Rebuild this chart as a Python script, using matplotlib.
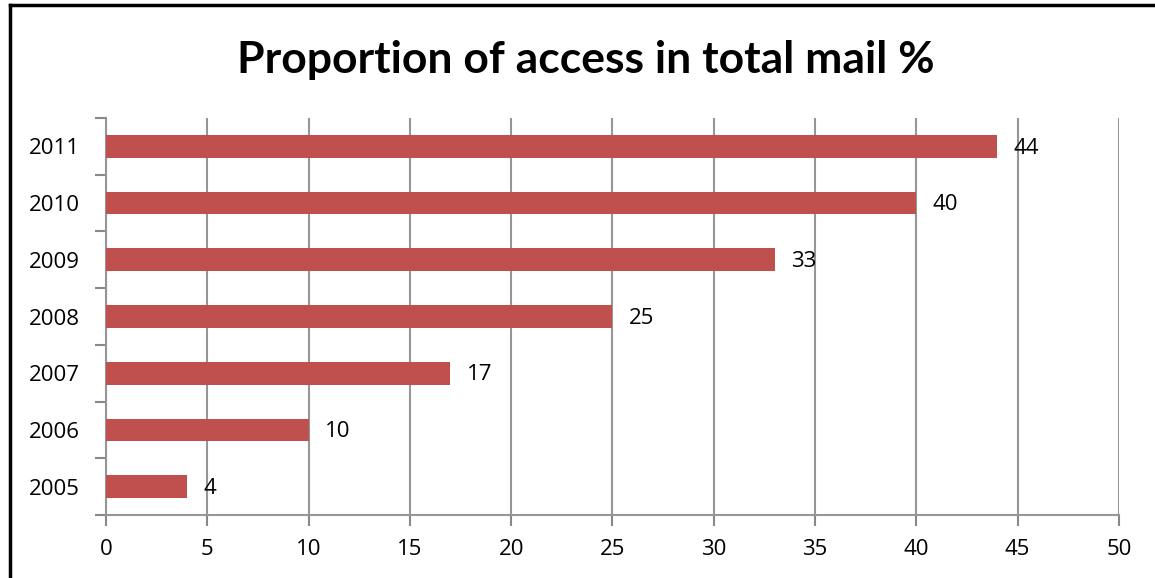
import matplotlib.pyplot as plt
from matplotlib.lines import Line2D

years = ['2005', '2006', '2007', '2008', '2009', '2010', '2011']
shares = [4, 10, 17, 25, 33, 40, 44]
x_ticks = [0, 5, 10, 15, 20, 25, 30, 35, 40, 45, 50]

plt.rcParams['font.family'] = ['Open Sans', 'DejaVu Sans']

fig = plt.figure(figsize=(11.55, 5.78), dpi=100)
ax = fig.add_axes([0.0918, 0.109, 0.8770, 0.6868])

pos = list(range(len(years)))
ax.barh(pos, shares, height=0.4, color='#C0504D', zorder=3)

# value labels just right of each bar
for p, v in zip(pos, shares):
    ax.text(v + 0.8, p - 0.03, str(v), va='center', ha='left', fontsize=16, zorder=4)

ax.set_xlim(0, 50)
ax.set_ylim(-0.5, len(years) - 0.5)
ax.set_xticks(x_ticks)
ax.set_xticklabels([str(t) for t in x_ticks], fontsize=16)

# category labels centred, ticks at category boundaries
ax.set_yticks(pos)
ax.set_yticklabels(years, fontsize=16)
ax.set_yticks([p - 0.5 for p in pos] + [len(years) - 0.5], minor=True)
ax.tick_params(axis='y', which='major', length=0, pad=19)
ax.tick_params(axis='y', which='minor', length=8, color='#888888', width=1.5)
ax.tick_params(axis='x', length=8, color='#888888', width=1.5, pad=9)

ax.grid(axis='x', color='#969696', linewidth=1.5, zorder=0)
for side in ['top', 'right']:
    ax.spines[side].set_visible(False)
for side in ['left', 'bottom']:
    ax.spines[side].set_color('#969696')
    ax.spines[side].set_linewidth(1.5)

fig.text(0.507, 0.897, 'Proportion of access in total mail %', ha='center', va='center',
         fontsize=32, fontweight='bold', family=['Lato', 'DejaVu Sans'])

# outer chart border (left and top only visible)
fig.add_artist(Line2D([10 / 1155, 10 / 1155], [0, 1 - 5 / 578], transform=fig.transFigure,
                      color='black', linewidth=2.5))
fig.add_artist(Line2D([10 / 1155, 1], [1 - 5 / 578, 1 - 5 / 578], transform=fig.transFigure,
                      color='black', linewidth=2.5))

fig.savefig('out.png', dpi=100)
